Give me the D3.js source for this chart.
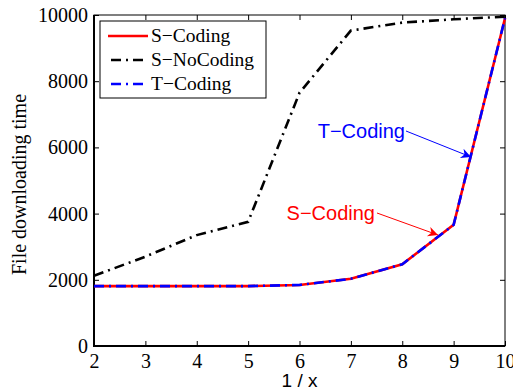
<!DOCTYPE html>
<html><head><meta charset="utf-8">
<script src="https://cdn.jsdelivr.net/npm/d3@7"></script>
<style>body{margin:0;background:#fff}</style>
</head><body>
<svg id="c" width="513" height="392"></svg>
<script>
const xs = [2,3,4,5,6,7,8,9,10];
const sCoding = [1810,1810,1810,1810,1845,2030,2470,3660,9900];
const sNoCoding = [2120,2700,3350,3750,7650,9530,9770,9870,9950];
const tCoding = [1810,1810,1810,1810,1845,2030,2470,3660,9900];
const xTicks = [2,3,4,5,6,7,8,9,10];
const yTicks = [0,2000,4000,6000,8000,10000];
const seriesNames = ["S\u2212Coding","S\u2212NoCoding","T\u2212Coding"];

const svg = d3.select("#c");
const L=94,R=505,T=15,B=346;
const x = d3.scaleLinear().domain([2,10]).range([L,R]);
const y = d3.scaleLinear().domain([0,10000]).range([B,T]);
const serif = "'Liberation Serif', 'Times New Roman', serif";
const sans = "'Liberation Sans', Arial, sans-serif";

const gB = svg.append("g").attr("transform",`translate(0,${B})`)
  .call(d3.axisBottom(x).tickValues(xTicks).tickSize(-5).tickPadding(8).tickFormat(d3.format("d")));
const gT = svg.append("g").attr("transform",`translate(0,${T})`)
  .call(d3.axisTop(x).tickValues(xTicks).tickSize(-5).tickFormat(""));
const gL = svg.append("g").attr("transform",`translate(${L},0)`)
  .call(d3.axisLeft(y).tickValues(yTicks).tickSize(-5).tickPadding(6).tickFormat(d3.format("d")));
const gR = svg.append("g").attr("transform",`translate(${R},0)`)
  .call(d3.axisRight(y).tickValues(yTicks).tickSize(-5).tickFormat(""));
[gB,gT,gL,gR].forEach(g=>{
  g.attr("font-family",null).attr("font-size",null);
  g.select(".domain").remove();
  g.selectAll(".tick line").attr("stroke","#000").attr("stroke-width",1);
  g.selectAll("text").style("font-family",serif).style("font-size","20px").attr("fill","#000");
});
svg.append("rect").attr("x",L).attr("y",T).attr("width",R-L).attr("height",B-T)
  .attr("fill","none").attr("stroke","#000").attr("stroke-width",1);
svg.append("path").attr("d",`M${L},${T}V${B}H${R}`).attr("fill","none").attr("stroke","#000").attr("stroke-width",2);

const line = d3.line().x((d,i)=>x(xs[i])).y(d=>y(d));
svg.append("path").datum(sNoCoding).attr("d",line).attr("fill","none")
  .attr("stroke","#000").attr("stroke-width",2.6).attr("stroke-dasharray","10,5,2,5");
svg.append("path").datum(sCoding).attr("d",line).attr("fill","none")
  .attr("stroke","#ff0000").attr("stroke-width",2.6);
svg.append("path").datum(tCoding).attr("d",line).attr("fill","none")
  .attr("stroke","#0000ff").attr("stroke-width",2.6).attr("stroke-dasharray","10,5,2,5");

// legend
const lg = svg.append("g");
lg.append("rect").attr("x",100).attr("y",21).attr("width",166).attr("height",77)
  .attr("fill","#fff").attr("stroke","#000").attr("stroke-width",1);
const styles=[{c:"#ff0000",d:null},{c:"#000",d:"10,5,2,5"},{c:"#0000ff",d:"10,5,2,5"}];
seriesNames.forEach((n,i)=>{
  const yy=36+i*24;
  const l=lg.append("line").attr("x1",108).attr("x2",148).attr("y1",yy).attr("y2",yy)
    .attr("stroke",styles[i].c).attr("stroke-width",2.6);
  if(styles[i].d) l.attr("stroke-dasharray",styles[i].d).attr("stroke-dashoffset",-3);
  lg.append("text").attr("x",151).attr("y",yy).attr("dy","0.33em").text(n)
    .style("font-family",serif).style("font-size","19.5px");
});

svg.append("text").attr("x",(L+R)/2).attr("y",387).attr("text-anchor","middle")
  .style("font-family",sans).style("font-size","19px").text("1 / x");
svg.append("text").attr("transform",`translate(26,${(T+B)/2+4}) rotate(-90)`).attr("text-anchor","middle")
  .style("font-family",serif).style("font-size","20px").text("File downloading time");

const defs=svg.append("defs");
function marker(id,c){
  defs.append("marker").attr("id",id).attr("viewBox","0 0 10 10").attr("refX",10).attr("refY",5)
   .attr("markerWidth",14).attr("markerHeight",10).attr("markerUnits","userSpaceOnUse").attr("orient","auto")
   .append("path").attr("d","M0,0L10,5L0,10L3,5Z").attr("fill",c);
}
marker("ab","#0000ff"); marker("ar","#ff0000");
svg.append("text").attr("x",405).attr("y",131).attr("dy","0.35em").attr("text-anchor","end")
  .style("font-family",sans).style("font-size","20px").attr("fill","#0000ff").text("T\u2212Coding");
svg.append("line").attr("x1",406).attr("y1",131).attr("x2",471).attr("y2",157)
  .attr("stroke","#0000ff").attr("stroke-width",1).attr("marker-end","url(#ab)");
svg.append("text").attr("x",375).attr("y",213).attr("dy","0.35em").attr("text-anchor","end")
  .style("font-family",sans).style("font-size","20px").attr("fill","#ff0000").text("S\u2212Coding");
svg.append("line").attr("x1",377).attr("y1",213).attr("x2",438).attr("y2",235)
  .attr("stroke","#ff0000").attr("stroke-width",1).attr("marker-end","url(#ar)");
</script>
</body></html>
